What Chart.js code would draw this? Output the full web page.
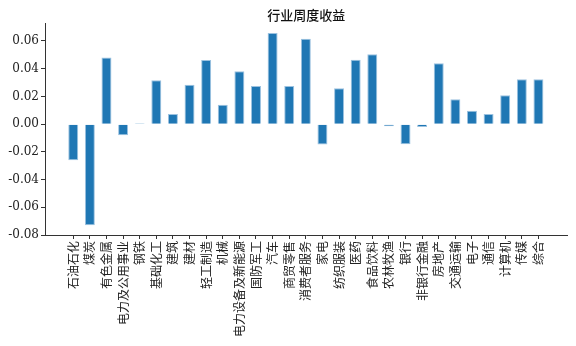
<!DOCTYPE html>
<html>
<head>
<meta charset="utf-8">
<script src="https://cdn.jsdelivr.net/npm/chart.js@4"></script>
<style>
    body { margin: 0; background: #fff; }
    canvas { display: block; }
</style>
</head>
<body>
<canvas id="barRetorno" width="576" height="346"></canvas>
<script>
// 行业周度收益
const industrias = ['石油石化', '煤炭', '有色金属', '电力及公用事业', '钢铁', '基础化工', '建筑', '建材',
    '轻工制造', '机械', '电力设备及新能源', '国防军工', '汽车', '商贸零售', '消费者服务', '家电',
    '纺织服装', '医药', '食品饮料', '农林牧渔', '银行', '非银行金融', '房地产', '交通运输',
    '电子', '通信', '计算机', '传媒', '综合'];
const retornos = [-0.026, -0.073, 0.048, -0.008, 0.0006, 0.0317, 0.0073, 0.0285,
    0.0462, 0.014, 0.0382, 0.0276, 0.0657, 0.0276, 0.0616, -0.0147,
    0.0259, 0.0464, 0.0505, -0.0015, -0.0145, -0.002, 0.044, 0.0179,
    0.0097, 0.0073, 0.0208, 0.0324, 0.0324];
const ticksY = [-0.08, -0.06, -0.04, -0.02, 0.00, 0.02, 0.04, 0.06];

const corEixo = '#333';

const dadosRetorno = {
    datasets: [{
        label: '收益',
        data: retornos.map((v, i) => ({ x: i, y: v })),
        backgroundColor: '#1f77b4',
        borderColor: '#9cc2e0',
        borderWidth: 1,
        barPercentage: 0.6,
        categoryPercentage: 1.0,
    }]
};

const configRetorno = {
    type: 'bar',
    data: dadosRetorno,
    options: {
        responsive: false,
        animation: false,
        layout: {
            padding: { left: 0, right: 8.5, top: 0, bottom: 0 }
        },
        scales: {
            x: {
                type: 'linear',
                offset: false,
                min: -1.7,
                max: 29.75,
                afterBuildTicks: (scale) => {
                    scale.ticks = industrias.map((_, i) => ({ value: i }));
                },
                afterFit: (scale) => { scale.height = 111; },
                border: { display: true, color: corEixo, width: 1 },
                grid: {
                    display: true,
                    offset: false,
                    drawOnChartArea: false,
                    drawTicks: true,
                    tickLength: 4,
                    color: corEixo,
                },
                ticks: {
                    autoSkip: false,
                    minRotation: 90,
                    maxRotation: 90,
                    padding: 2,
                    color: '#222',
                    font: {
                        size: 12,
                        family: "'Noto Sans CJK SC', sans-serif",
                    },
                    callback: (value) => industrias[value],
                }
            },
            y: {
                min: -0.08,
                max: 0.0725,
                afterBuildTicks: (scale) => {
                    scale.ticks = ticksY.map(v => ({ value: v }));
                },
                afterFit: (scale) => { scale.width = 45; },
                border: { display: true, color: corEixo, width: 1 },
                grid: {
                    display: true,
                    drawOnChartArea: false,
                    drawTicks: true,
                    tickLength: 4,
                    color: corEixo,
                },
                ticks: {
                    padding: 2,
                    color: '#222',
                    font: {
                        size: 12,
                        family: "'DejaVu Serif', serif",
                    },
                    callback: (value) => value.toFixed(2),
                }
            }
        },
        plugins: {
            title: {
                display: true,
                fullSize: false,
                text: '行业周度收益',
                color: '#111',
                padding: { top: 8, bottom: 2 },
                font: {
                    size: 13,
                    weight: 500,
                    lineHeight: 1.05,
                    family: "'Noto Sans CJK SC', sans-serif",
                }
            },
            legend: { display: false },
            tooltip: { enabled: false }
        }
    }
};

new Chart(document.getElementById('barRetorno').getContext('2d'),
    configRetorno
);
</script>
</body>
</html>
